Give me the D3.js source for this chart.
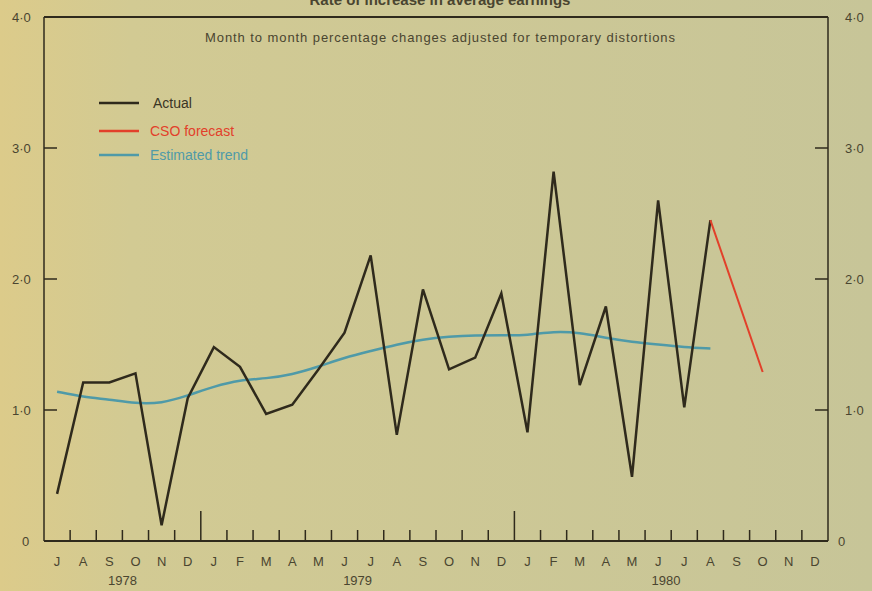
<!DOCTYPE html>
<html>
<head>
  <meta charset="utf-8">
  <script src="https://d3js.org/d3.v7.min.js"></script>
  <style>
    body { margin: 0; background: #cfc894; }
    text { font-family: "Liberation Sans", Arial, sans-serif; fill: #4a4530; }
  </style>
</head>
<body>
<script>
// months Jul 1978 .. Dec 1980
var monthLabels = ["J","A","S","O","N","D",
                   "J","F","M","A","M","J","J","A","S","O","N","D",
                   "J","F","M","A","M","J","J","A","S","O","N","D"];
var yearLabels = [{label: "1978", at: 2.5}, {label: "1979", at: 11.5}, {label: "1980", at: 23.3}];

// actual, Jul 1978 .. Aug 1980
var actual = [0.36, 1.21, 1.21, 1.28, 0.12, 1.09,
              1.48, 1.33, 0.97, 1.04, 1.31, 1.59, 2.18, 0.81, 1.92, 1.31, 1.40, 1.89,
              0.83, 2.82, 1.19, 1.79, 0.49, 2.60, 1.02, 2.45];
// CSO forecast, Aug 1980 and Oct 1980
var forecast = [{m: 25, v: 2.45}, {m: 27, v: 1.29}];
// estimated trend, Jul 1978 .. Aug 1980
var trend = [1.14, 1.10, 1.08, 1.05, 1.05, 1.11,
             1.18, 1.23, 1.24, 1.27, 1.33, 1.40, 1.45, 1.50, 1.54, 1.56, 1.57, 1.57,
             1.57, 1.60, 1.59, 1.55, 1.52, 1.50, 1.48, 1.47];
var yTicks = [0, 1, 2, 3, 4];

var W = 872, H = 591;
var svg = d3.select("body").append("svg").attr("width", W).attr("height", H);

// paper background, warmer on the left edge
var grad = svg.append("defs").append("linearGradient").attr("id", "paper");
grad.append("stop").attr("offset", "0%").attr("stop-color", "#dccb8a");
grad.append("stop").attr("offset", "15%").attr("stop-color", "#d2ca93");
grad.append("stop").attr("offset", "100%").attr("stop-color", "#c7c598");
svg.append("rect").attr("width", W).attr("height", H).attr("fill", "url(#paper)");

var plotL = 44, plotR = 828, plotT = 17, plotB = 541;
var x = d3.scaleLinear().domain([0, 30]).range([plotL, plotR]);
var y = d3.scaleLinear().domain([0, 4]).range([plotB, plotT]);
var ink = "#2f2a1c";

// title, mostly cut off by the top edge (as in the scan)
svg.append("text").attr("x", 440).attr("y", 5).attr("text-anchor", "middle")
  .style("font-size", "15px").style("font-weight", "bold").text("Rate of increase in average earnings");

svg.append("text").attr("x", 440).attr("y", 42).attr("text-anchor", "middle")
  .attr("textLength", 470).attr("lengthAdjust", "spacing")
  .style("font-size", "13px").text("Month to month percentage changes adjusted for temporary distortions");

// frame
svg.append("line").attr("x1", plotL).attr("x2", plotR).attr("y1", plotT).attr("y2", plotT)
  .attr("stroke", ink).attr("stroke-width", 2);
svg.append("line").attr("x1", plotL).attr("x2", plotL).attr("y1", plotT).attr("y2", plotB)
  .attr("stroke", ink).attr("stroke-width", 1.5);
svg.append("line").attr("x1", plotR).attr("x2", plotR).attr("y1", plotT).attr("y2", plotB)
  .attr("stroke", ink).attr("stroke-width", 1.5);
svg.append("line").attr("x1", plotL).attr("x2", plotR).attr("y1", plotB).attr("y2", plotB)
  .attr("stroke", ink).attr("stroke-width", 1.8);

// y ticks both sides
yTicks.slice(1, 4).forEach(function (t) {
  svg.append("line").attr("x1", plotL).attr("x2", plotL + 13).attr("y1", y(t)).attr("y2", y(t))
    .attr("stroke", ink).attr("stroke-width", 1.5);
  svg.append("line").attr("x1", plotR - 13).attr("x2", plotR).attr("y1", y(t)).attr("y2", y(t))
    .attr("stroke", ink).attr("stroke-width", 1.5);
});
var fmt = function (d) { return d === 0 ? "0" : d.toFixed(1).replace(".", "\u00b7"); };
yTicks.forEach(function (t) {
  svg.append("text").attr("x", t === 0 ? 22 : 12).attr("y", y(t) + 5)
    .style("font-size", "13px").text(fmt(t));
  svg.append("text").attr("x", t === 0 ? 838 : 845).attr("y", y(t) + 5)
    .style("font-size", "13px").text(fmt(t));
});

// x ticks at month boundaries, long ones at year ends
d3.range(1, 30).forEach(function (i) {
  var yearEnd = (i === 6 || i === 18);
  svg.append("line").attr("x1", x(i)).attr("x2", x(i))
    .attr("y1", plotB).attr("y2", plotB - (yearEnd ? 30 : 11))
    .attr("stroke", ink).attr("stroke-width", 1.5);
});
monthLabels.forEach(function (m, i) {
  svg.append("text").attr("x", x(i + 0.5)).attr("y", 566).attr("text-anchor", "middle")
    .style("font-size", "13px").text(m);
});
yearLabels.forEach(function (d) {
  svg.append("text").attr("x", x(d.at + 0.5)).attr("y", 585).attr("text-anchor", "middle")
    .style("font-size", "13px").text(d.label);
});

// series
var trendLine = d3.line().x(function (d, i) { return x(i + 0.5); }).y(function (d) { return y(d); })
  .curve(d3.curveBasis);
svg.append("path").datum(trend).attr("d", trendLine)
  .attr("fill", "none").attr("stroke", "#4f9aa8").attr("stroke-width", 2.5);

var actualLine = d3.line().x(function (d, i) { return x(i + 0.5); }).y(function (d) { return y(d); });
svg.append("path").datum(actual).attr("d", actualLine)
  .attr("fill", "none").attr("stroke", ink).attr("stroke-width", 2.5).attr("stroke-linejoin", "miter");

var fcLine = d3.line().x(function (d) { return x(d.m + 0.5); }).y(function (d) { return y(d.v); });
svg.append("path").datum(forecast).attr("d", fcLine)
  .attr("fill", "none").attr("stroke", "#e2402a").attr("stroke-width", 2);

// legend
var legend = [
  {name: "Actual", color: ink, text: "#3a3524", ly: 103},
  {name: "CSO forecast", color: "#e2402a", text: "#e2402a", ly: 131},
  {name: "Estimated trend", color: "#4f9aa8", text: "#4f9aa8", ly: 155}
];
legend.forEach(function (d) {
  svg.append("line").attr("x1", 99).attr("x2", 139).attr("y1", d.ly).attr("y2", d.ly)
    .attr("stroke", d.color).attr("stroke-width", 2.5);
  svg.append("text").attr("x", d.name === "Actual" ? 153 : 150).attr("y", d.ly + 5)
    .style("font-size", "14px").style("fill", d.text).text(d.name);
});
</script>
</body>
</html>
